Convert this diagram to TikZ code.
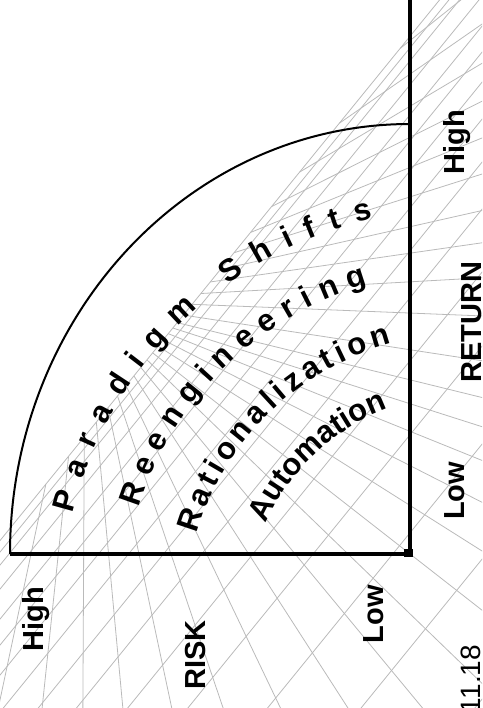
\documentclass[tikz,border=0pt]{standalone}
\usepackage{fontspec}
\setmainfont{Liberation Sans}
\usetikzlibrary{calc}
\newcommand\arcword[5]{%
  \xdef\curedge{#2}%
  \foreach \ch/\w [count=\i] in {#4}{%
    \pgfmathsetmacro\cang{\curedge - \w*31/2/#1*57.29578}%
    \node[arcl, rotate=\cang-90] (#5\i) at ($(C)+(\cang:#1)$) {\ch};%
    \pgfmathsetmacro\nedge{\curedge - (\w*31+#3)/#1*57.29578}%
    \global\let\curedge\nedge
  }%
}
\begin{document}
\begin{tikzpicture}[x=1pt,y=1pt,
  mesh/.style={draw=black!27, line width=0.8pt},
  lab/.style={font=\fontsize{29}{30}\selectfont\bfseries, rotate=90, anchor=base, inner sep=0pt},
  arcl/.style={font=\fontsize{31}{32}\selectfont\bfseries, anchor=base, inner sep=0pt},
  axisline/.style={line width=4.5pt, line join=miter},
  bigarc/.style={line width=2pt}]
\useasboundingbox (0,0) rectangle (482,-708);
\begin{scope}
\clip (0,0) rectangle (482,-708);
\coordinate (VB) at (85,-300);
\foreach \c in {438.5,450,463,487,517,543,573,610,653,700,763,837,935,1050,1190,1360}{
  \draw[mesh] (-60,{-\c-1.23*143}) -- (600,{-\c+1.23*517});
}
\foreach \a in {102,96,90.3,84.7,78,71.3,64.4,57.2,50.4,44,38,32.3,27,22,17.7,13.8,8.7,2.3,-3.2,-8.2,-12.7,-17.6,-22.2,-26.6,-30.8,-34.8,-38.6}{
  \pgfmathsetmacro\tdist{136.05/(1.23*cos(\a)+sin(\a))}
  \draw[mesh] ($(VB)+(-\a:\tdist)$) -- ($(VB)+(-\a:\tdist+1500)$);
}
\end{scope}
% quarter arc and axes
\coordinate (O) at (410,-554);
\coordinate (Ltop) at (410,10);
\coordinate (Lleft) at (10,-554);
\draw[bigarc] (Lleft) arc[start angle=180, end angle=90, x radius=400, y radius=430];
\draw[axisline] (Ltop) -- (O) -- (Lleft);
\fill (404,-549) rectangle (413,-557);
% labels
\node[lab] (hr) at (464,-142) {High};
\node[lab] (ret) at (481,-322) {RETURN};
\node[lab] (lr) at (464,-491) {Low};
\node[lab] (hb) at (43,-619) {High};
\node[lab] (risk) at (205,-655) {RISK};
\node[lab] (lb) at (383,-614) {Low};
\node[lab, font=\fontsize{28}{28}\selectfont] (num) at (480,-679) {11.18};
% curved texts
\coordinate (C) at (464,-612);
\arcword{404}{165.9}{14.8}{P/.667,a/.556,r/.389,a/.556,d/.611,i/.278,g/.611,m/.889,\relax/.278,S/.667,h/.611,i/.278,f/.333,t/.333,s/.556}{pa}
\arcword{342}{162.3}{9.9}{R/.722,e/.556,e/.556,n/.611,g/.611,i/.278,n/.611,e/.556,e/.556,r/.389,i/.278,n/.611,g/.611}{re}
\arcword{278}{163.7}{4.6}{R/.722,a/.556,t/.333,i/.278,o/.611,n/.611,a/.556,l/.278,i/.278,z/.5,a/.556,t/.333,i/.278,o/.611,n/.611}{ra}
\arcword{217}{155.9}{0}{A/.722,u/.611,t/.333,o/.611,m/.889,a/.556,t/.333,i/.278,o/.611,n/.611}{au}
\end{tikzpicture}
\end{document}
